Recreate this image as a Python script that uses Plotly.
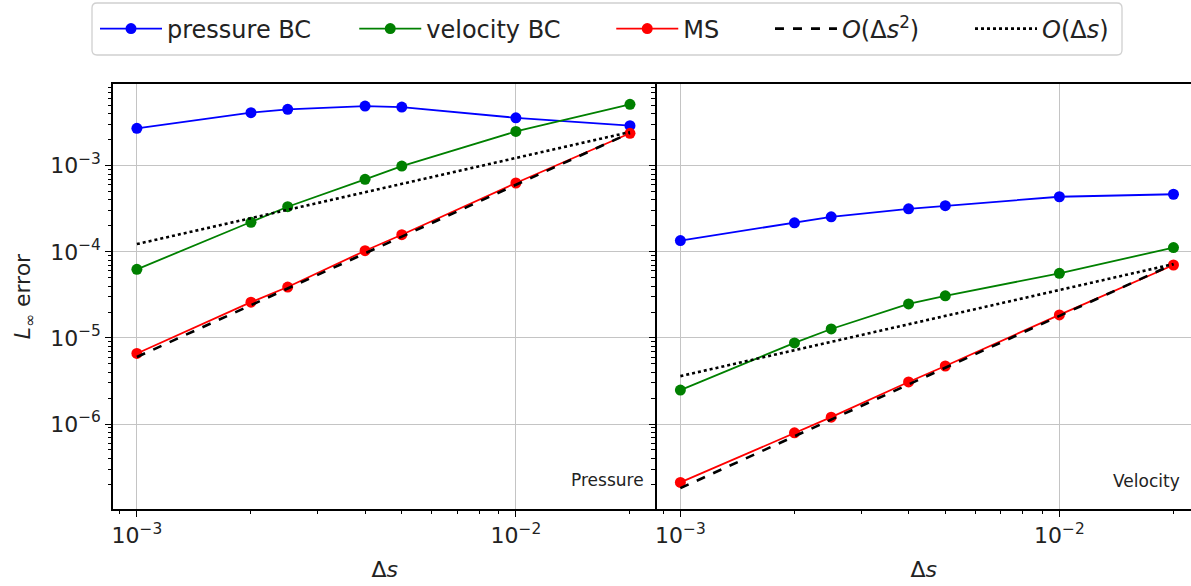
import plotly.graph_objects as go

# Grid spacings
ds = [0.001, 0.002, 0.0025, 0.004, 0.005, 0.01, 0.02]

# Pressure errors
p_pressure_bc = [2.72e-3, 4.13e-3, 4.52e-3, 4.93e-3, 4.8e-3, 3.6e-3, 2.92e-3]
p_velocity_bc = [6.26e-5, 2.2e-4, 3.34e-4, 6.95e-4, 9.9e-4, 2.5e-3, 5.16e-3]
p_ms = [6.6e-6, 2.6e-5, 3.9e-5, 1.03e-4, 1.58e-4, 6.3e-4, 2.38e-3]

# Velocity errors
v_pressure_bc = [1.35e-4, 2.17e-4, 2.55e-4, 3.16e-4, 3.43e-4, 4.36e-4, 4.66e-4]
v_velocity_bc = [2.48e-6, 8.75e-6, 1.27e-5, 2.48e-5, 3.08e-5, 5.62e-5, 1.12e-4]
v_ms = [2.1e-7, 7.9e-7, 1.2e-6, 3.08e-6, 4.72e-6, 1.85e-5, 7.03e-5]

# Reference slopes (end points)
ref_ds = [0.001, 0.02]
p_ref2 = [6.0e-6, 2.4e-3]
p_ref1 = [1.23e-4, 2.46e-3]
v_ref2 = [1.8e-7, 7.2e-5]
v_ref1 = [3.6e-6, 7.2e-5]

x_ticks = [1e-3, 1e-2]
x_ticktext = ["10<sup>\u22123</sup>", "10<sup>\u22122</sup>"]
y_ticks = [1e-6, 1e-5, 1e-4, 1e-3]
y_ticktext = ["10<sup>\u22126</sup>", "10<sup>\u22125</sup>", "10<sup>\u22124</sup>", "10<sup>\u22123</sup>"]

FONT = "DejaVu Sans"
TXT = "#222222"
W, H = 1191, 586


def gap(n):
    """Trailing spacing between horizontal legend entries."""
    return "\u00a0" * n


fig = go.Figure()

series = [
    ("pressure BC", "#0000ff", p_pressure_bc, v_pressure_bc, 5),
    ("velocity BC", "#008000", p_velocity_bc, v_velocity_bc, 6),
    ("MS", "#ff0000", p_ms, v_ms, 6),
]
for name, color, pvals, vvals, pad in series:
    for i, (vals, xa, ya) in enumerate([(pvals, "x", "y"), (vvals, "x2", "y2")]):
        fig.add_trace(go.Scatter(
            x=ds, y=vals, xaxis=xa, yaxis=ya, name=name + gap(pad), legendgroup=name,
            showlegend=(i == 0), mode="lines+markers",
            line=dict(color=color, width=1.8),
            marker=dict(color=color, size=11, symbol="circle"),
        ))

refs = [
    ("<i>O</i>(Δ<i>s</i><sup>2</sup>)", "dash", p_ref2, v_ref2, 6),
    ("<i>O</i>(Δ<i>s</i>)", "dot", p_ref1, v_ref1, 0),
]
for name, dash, pvals, vvals, pad in refs:
    for i, (vals, xa, ya) in enumerate([(pvals, "x", "y"), (vvals, "x2", "y2")]):
        fig.add_trace(go.Scatter(
            x=ref_ds, y=vals, xaxis=xa, yaxis=ya, name=name + gap(pad), legendgroup=name,
            showlegend=(i == 0), mode="lines",
            line=dict(color="black", width=2.6, dash=dash),
        ))

left_px, mid_px, top_px, bot_px = 113, 656.5, 84, 509
dom_left = [left_px / W, mid_px / W]
dom_right = [mid_px / W, 1.0]
dom_y = [1 - bot_px / H, 1 - top_px / H]

x_lo = -3.063
px_per_dec = 379.0
x_hi_left = x_lo + (mid_px - left_px) / px_per_dec
x_hi_right = x_lo + (W - mid_px) / px_per_dec
y_range = [-6.987, -2.051]

minor_x = [k * 10.0 ** e for e in (-4, -3, -2) for k in range(2, 10)]
minor_y = [k * 10.0 ** e for e in (-7, -6, -5, -4, -3) for k in range(2, 10)]

common_x = dict(
    type="log", tickmode="array", tickvals=x_ticks, ticktext=x_ticktext,
    showline=True, linecolor="black", linewidth=1.5, mirror=True,
    ticks="outside", ticklen=6, tickwidth=1.3, tickcolor="black",
    showgrid=True, gridcolor="#c4c4c4", gridwidth=1.2, zeroline=False,
    tickfont=dict(family=FONT, size=22, color=TXT),
    minor=dict(tickmode="array", tickvals=minor_x, ticks="outside", ticklen=3.5,
               tickwidth=1, tickcolor="black", showgrid=False),
    title=dict(text="Δ<i>s</i>", font=dict(family=FONT, size=22, color=TXT), standoff=14),
)
common_y = dict(
    type="log", range=y_range, tickmode="array", tickvals=y_ticks,
    showline=True, linecolor="black", linewidth=1.5, mirror=False,
    ticks="outside", ticklen=6, tickwidth=1.3, tickcolor="black",
    showgrid=True, gridcolor="#c4c4c4", gridwidth=1.2, zeroline=False,
    tickfont=dict(family=FONT, size=22, color=TXT),
    minor=dict(tickmode="array", tickvals=minor_y, ticks="outside", ticklen=3.5,
               tickwidth=1, tickcolor="black", showgrid=False),
)

# Legend frame with rounded corners (paper coordinates)
def px(x):
    return x / W


def py(y):
    return 1 - y / H


bx0, by0, bx1, by1, rr = 92, 3, 1122, 55, 5
frame_path = (
    f"M{px(bx0 + rr)},{py(by0)} L{px(bx1 - rr)},{py(by0)} Q{px(bx1)},{py(by0)} {px(bx1)},{py(by0 + rr)} "
    f"L{px(bx1)},{py(by1 - rr)} Q{px(bx1)},{py(by1)} {px(bx1 - rr)},{py(by1)} L{px(bx0 + rr)},{py(by1)} "
    f"Q{px(bx0)},{py(by1)} {px(bx0)},{py(by1 - rr)} L{px(bx0)},{py(by0 + rr)} Q{px(bx0)},{py(by0)} {px(bx0 + rr)},{py(by0)} Z"
)

fig.update_layout(
    width=W, height=H,
    margin=dict(l=0, r=0, t=0, b=0),
    paper_bgcolor="white", plot_bgcolor="white",
    font=dict(family=FONT, color=TXT),
    xaxis=dict(common_x, domain=dom_left, range=[x_lo, x_hi_left], anchor="y"),
    xaxis2=dict(common_x, domain=dom_right, range=[x_lo, x_hi_right], anchor="y2"),
    yaxis=dict(common_y, domain=dom_y, anchor="x", ticktext=y_ticktext,
               title=dict(text="<i>L</i><sub>∞</sub> error",
                          font=dict(family=FONT, size=22, color=TXT), standoff=13)),
    yaxis2=dict(common_y, domain=dom_y, anchor="x2", showticklabels=False,
                ticktext=y_ticktext),
    legend=dict(
        orientation="h", x=95 / W, y=py(29), xanchor="left", yanchor="middle",
        borderwidth=0, bgcolor="rgba(0,0,0,0)",
        font=dict(family=FONT, size=24, color=TXT),
        itemwidth=62, traceorder="normal",
    ),
    shapes=[dict(type="path", path=frame_path, xref="paper", yref="paper",
                 line=dict(color="#d0d0d0", width=1.3), fillcolor="rgba(0,0,0,0)",
                 layer="below")],
    annotations=[
        dict(text="Pressure", x=646 / W, y=py(480), xref="paper", yref="paper",
             xanchor="right", yanchor="middle", showarrow=False,
             font=dict(family=FONT, size=17, color=TXT)),
        dict(text="Velocity", x=1182 / W, y=py(481), xref="paper", yref="paper",
             xanchor="right", yanchor="middle", showarrow=False,
             font=dict(family=FONT, size=17, color=TXT)),
    ],
)

fig.write_html("out.html")
